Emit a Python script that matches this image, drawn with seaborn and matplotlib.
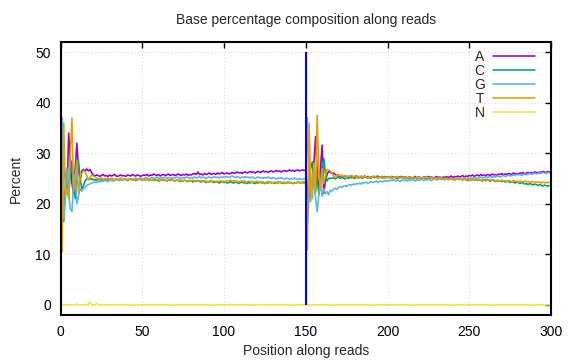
import pandas as pd
import matplotlib
matplotlib.use("Agg")
import matplotlib.pyplot as plt
import seaborn as sns

# Positions along the (concatenated) read pair: read 1 = 1..150, read 2 = 151..300
positions = list(range(1, 301))
read_boundary = 150

a_pct = [
    20.0, 27.5, 25.0, 22.0, 34.0, 28.0, 24.0, 22.0, 27.0, 32.0,
    27.0, 24.5, 26.5, 26.8, 26.4, 26.9, 26.5, 26.8, 26.2, 25.7,
    25.5, 25.7, 25.6, 25.4, 25.6, 25.8, 25.5, 25.6, 25.4, 25.7,
    25.5, 25.6, 25.8, 25.5, 25.4, 25.6, 25.7, 25.5, 25.6, 25.4,
    25.7, 25.6, 25.5, 25.8, 25.6, 25.5, 25.7, 25.6, 25.4, 25.6,
    25.7, 25.6, 25.8, 25.5, 25.7, 25.6, 25.9, 25.7, 25.6, 25.8,
    25.5, 25.7, 25.8, 25.6, 25.7, 25.9, 25.6, 25.7, 25.8, 25.6,
    25.7, 25.9, 25.7, 25.6, 25.8, 25.7, 25.9, 25.6, 25.8, 25.7,
    25.9, 26.0, 25.8, 26.3, 25.8, 25.9, 25.7, 26.0, 25.8, 25.9,
    26.1, 25.8, 25.9, 26.0, 25.8, 26.1, 25.9, 26.0, 26.2, 25.9,
    26.0, 26.1, 25.9, 26.0, 26.2, 26.0, 26.1, 26.3, 26.1, 26.2,
    26.0, 26.2, 26.3, 26.1, 26.2, 26.4, 26.2, 26.3, 26.1, 26.3,
    26.4, 26.2, 26.3, 26.5, 26.3, 26.4, 26.2, 26.4, 26.5, 26.3,
    26.4, 26.6, 26.4, 26.5, 26.3, 26.5, 26.6, 26.4, 26.5, 26.7,
    26.5, 26.6, 26.4, 26.6, 26.7, 26.5, 26.6, 26.7, 26.6, 26.7,
    20.0, 27.0, 24.5, 23.0, 28.0, 33.3, 26.0, 22.4, 27.0, 31.6,
    22.0, 24.5, 25.8, 26.4, 26.2, 26.0, 26.1, 25.8, 25.6, 25.5,
    25.4, 25.6, 25.3, 25.5, 25.4, 25.2, 25.5, 25.3, 25.4, 25.2,
    25.5, 25.3, 25.4, 25.1, 25.3, 25.5, 25.2, 25.4, 25.3, 25.1,
    25.4, 25.2, 25.3, 25.5, 25.2, 25.3, 25.1, 25.4, 25.2, 25.3,
    25.2, 25.4, 25.1, 25.3, 25.2, 25.0, 25.3, 25.2, 25.4, 25.1,
    25.3, 25.2, 25.0, 25.3, 25.1, 25.2, 25.4, 25.1, 25.3, 25.2,
    25.0, 25.2, 25.3, 25.1, 25.4, 25.2, 25.3, 25.1, 25.2, 25.4,
    25.2, 25.3, 25.1, 25.3, 25.2, 25.4, 25.2, 25.3, 25.5, 25.2,
    25.4, 25.3, 25.5, 25.3, 25.4, 25.6, 25.3, 25.5, 25.4, 25.6,
    25.5, 25.7, 25.4, 25.6, 25.7, 25.5, 25.8, 25.6, 25.7, 25.5,
    25.8, 25.7, 25.6, 25.9, 25.7, 25.8, 25.6, 25.9, 25.8, 26.0,
    25.7, 25.9, 25.8, 26.0, 25.9, 25.8, 26.1, 25.9, 26.0, 25.8,
    26.1, 26.0, 26.2, 25.9, 26.1, 26.2, 26.0, 26.2, 26.1, 26.3,
    26.2, 26.1, 26.3, 26.2, 26.4, 26.3, 26.2, 26.4, 26.3, 26.4,
]

c_pct = [
    28.0, 16.5, 24.0, 27.0, 21.5, 26.0, 28.5, 24.0, 21.0, 24.5,
    28.5, 25.0, 23.0, 23.5, 24.5, 24.9, 25.0, 24.8, 25.0, 24.7,
    24.8, 24.6, 24.9, 24.7, 24.8, 24.6, 24.9, 24.8, 24.7, 24.9,
    24.6, 24.8, 24.7, 24.9, 24.8, 24.6, 24.8, 24.7, 24.9, 24.8,
    24.6, 24.8, 24.9, 24.7, 24.8, 24.6, 24.7, 24.9, 24.8, 24.7,
    24.8, 24.7, 24.9, 24.6, 24.8, 24.7, 24.6, 24.8, 24.7, 24.5,
    24.7, 24.8, 24.6, 24.7, 24.5, 24.7, 24.6, 24.8, 24.6, 24.5,
    24.7, 24.6, 24.4, 24.6, 24.5, 24.7, 24.5, 24.4, 24.6, 24.5,
    24.3, 24.5, 24.4, 24.6, 24.4, 24.3, 24.5, 24.4, 24.2, 24.4,
    24.3, 24.5, 24.3, 24.2, 24.4, 24.3, 24.1, 24.3, 24.4, 24.2,
    24.3, 24.1, 24.2, 24.4, 24.2, 24.1, 24.3, 24.2, 24.0, 24.2,
    24.3, 24.1, 24.2, 24.0, 24.2, 24.1, 24.3, 24.1, 24.0, 24.2,
    24.1, 24.3, 24.1, 24.2, 24.0, 24.2, 24.1, 24.3, 24.1, 24.2,
    24.0, 24.2, 24.1, 24.3, 24.2, 24.0, 24.2, 24.1, 24.3, 24.1,
    24.2, 24.0, 24.2, 24.1, 24.3, 24.2, 24.1, 24.3, 24.2, 24.3,
    16.0, 22.0, 27.0, 28.3, 24.0, 22.5, 26.0, 21.7, 24.5, 27.5,
    29.0, 26.0, 24.5, 25.0, 25.1, 25.0, 25.2, 24.9, 25.1, 25.3,
    25.0, 25.2, 25.1, 24.9, 25.2, 25.0, 25.3, 25.1, 25.2, 25.0,
    25.3, 25.1, 25.2, 25.4, 25.1, 25.3, 25.2, 25.0, 25.3, 25.1,
    25.4, 25.2, 25.3, 25.1, 25.3, 25.2, 25.4, 25.1, 25.3, 25.2,
    25.3, 25.1, 25.4, 25.2, 25.3, 25.1, 25.2, 25.4, 25.1, 25.3,
    25.2, 25.0, 25.3, 25.1, 25.2, 25.0, 25.3, 25.1, 25.2, 25.0,
    25.1, 25.3, 25.0, 25.2, 25.1, 24.9, 25.2, 25.0, 25.1, 24.9,
    25.1, 25.0, 24.8, 25.0, 25.1, 24.9, 25.0, 24.8, 25.0, 24.9,
    24.7, 24.9, 25.0, 24.8, 24.9, 24.7, 24.9, 24.8, 24.6, 24.8,
    24.7, 24.9, 24.7, 24.8, 24.6, 24.8, 24.7, 24.5, 24.7, 24.6,
    24.8, 24.6, 24.5, 24.7, 24.6, 24.4, 24.6, 24.5, 24.6, 24.4,
    24.5, 24.3, 24.5, 24.4, 24.2, 24.4, 24.3, 24.1, 24.3, 24.2,
    24.0, 24.2, 24.1, 23.9, 24.0, 23.8, 24.0, 23.9, 23.7, 23.9,
    23.8, 23.6, 23.8, 23.7, 23.5, 23.7, 23.6, 23.5, 23.6, 23.5,
]

g_pct = [
    37.0, 17.0, 21.0, 27.0, 22.0, 19.0, 18.5, 24.0, 26.0, 20.0,
    21.5, 23.0, 22.5, 23.0, 23.3, 23.6, 23.8, 23.9, 24.1, 24.2,
    24.3, 24.2, 24.4, 24.3, 24.5, 24.4, 24.6, 24.5, 24.4, 24.6,
    24.7, 24.5, 24.6, 24.8, 24.7, 24.6, 24.8, 24.7, 24.9, 24.8,
    24.7, 24.9, 25.0, 24.8, 24.9, 25.1, 24.9, 25.0, 25.1, 24.9,
    25.0, 25.2, 25.1, 24.9, 25.1, 25.2, 25.0, 25.1, 25.3, 25.1,
    25.0, 25.2, 25.1, 25.3, 25.0, 25.2, 25.1, 25.0, 25.2, 25.1,
    25.3, 25.1, 25.2, 25.0, 25.2, 25.1, 25.3, 25.2, 25.0, 25.2,
    25.1, 25.3, 25.1, 25.2, 25.4, 25.1, 25.3, 25.2, 25.0, 25.2,
    25.3, 25.1, 25.2, 25.4, 25.2, 25.3, 25.1, 25.3, 25.2, 25.4,
    25.3, 25.4, 25.2, 25.3, 25.5, 25.3, 25.2, 25.4, 25.3, 25.1,
    25.3, 25.2, 25.4, 25.2, 25.3, 25.1, 25.3, 25.2, 25.0, 25.2,
    25.3, 25.1, 25.2, 25.0, 25.2, 25.1, 25.3, 25.1, 25.0, 25.2,
    25.1, 24.9, 25.1, 25.0, 25.2, 25.0, 24.9, 25.1, 25.0, 24.8,
    25.0, 24.9, 25.1, 24.9, 24.8, 25.0, 24.9, 24.8, 25.0, 24.9,
    37.0, 25.0, 20.4, 26.0, 23.7, 21.0, 18.4, 22.0, 24.0, 21.5,
    23.0, 22.0, 22.4, 21.8, 22.7, 22.5, 22.9, 23.1, 22.8, 23.2,
    23.4, 23.2, 23.5, 23.6, 23.4, 23.7, 23.8, 23.6, 23.9, 23.8,
    24.0, 23.9, 24.1, 23.9, 24.2, 24.1, 24.3, 24.0, 24.2, 24.4,
    24.2, 24.3, 24.5, 24.2, 24.4, 24.5, 24.3, 24.6, 24.4, 24.6,
    24.5, 24.7, 24.6, 24.8, 24.5, 24.7, 24.6, 24.4, 24.7, 24.6,
    24.8, 24.5, 24.7, 24.6, 24.8, 24.7, 24.5, 24.8, 24.6, 24.7,
    24.9, 24.6, 24.8, 24.7, 24.9, 24.7, 24.6, 24.8, 24.9, 24.7,
    24.8, 25.0, 24.8, 24.9, 24.7, 25.0, 24.8, 24.9, 25.1, 24.9,
    25.0, 24.8, 25.0, 25.1, 24.9, 25.0, 25.2, 24.9, 25.1, 25.0,
    25.1, 25.0, 25.2, 25.1, 25.0, 25.2, 25.3, 25.1, 25.2, 25.4,
    25.2, 25.3, 25.4, 25.2, 25.4, 25.3, 25.5, 25.4, 25.3, 25.5,
    25.6, 25.4, 25.5, 25.7, 25.5, 25.6, 25.7, 25.6, 25.8, 25.7,
    25.8, 25.6, 25.8, 25.9, 25.7, 25.9, 26.0, 25.8, 25.9, 26.1,
    25.9, 26.0, 26.1, 26.0, 26.2, 26.1, 26.0, 26.2, 26.1, 26.2,
]

t_pct = [
    10.5, 36.0, 21.5, 23.0, 21.0, 30.0, 37.0, 22.5, 25.0, 28.5,
    22.0, 25.5, 26.0, 26.5, 26.4, 25.6, 24.7, 25.2, 25.7, 25.5,
    25.3, 25.1, 25.0, 24.9, 25.1, 24.8, 25.0, 24.9, 25.1, 24.8,
    25.0, 24.9, 24.7, 25.0, 24.8, 24.9, 25.1, 24.8, 24.9, 24.7,
    24.9, 24.8, 25.0, 24.8, 24.7, 24.9, 24.8, 25.0, 24.7, 24.8,
    24.8, 24.7, 24.9, 24.6, 24.8, 24.7, 24.8, 24.6, 24.7, 24.9,
    24.6, 24.7, 24.8, 24.6, 24.5, 24.7, 24.8, 24.6, 24.7, 24.5,
    24.7, 24.6, 24.8, 24.5, 24.6, 24.7, 24.5, 24.6, 24.4, 24.6,
    24.7, 24.5, 24.6, 24.4, 24.5, 24.6, 24.4, 24.6, 24.5, 24.3,
    24.5, 24.6, 24.4, 24.5, 24.3, 24.5, 24.4, 24.6, 24.4, 24.5,
    24.4, 24.6, 24.5, 24.7, 24.5, 24.6, 24.4, 24.5, 24.3, 24.5,
    24.4, 24.6, 24.4, 24.3, 24.5, 24.4, 24.2, 24.4, 24.3, 24.5,
    24.3, 24.2, 24.4, 24.3, 24.1, 24.3, 24.4, 24.2, 24.3, 24.1,
    24.3, 24.2, 24.4, 24.2, 24.1, 24.3, 24.2, 24.0, 24.2, 24.3,
    24.1, 24.2, 24.0, 24.2, 24.1, 24.3, 24.1, 24.2, 24.0, 24.2,
    10.9, 36.0, 24.0, 21.0, 28.0, 22.0, 37.5, 26.0, 23.0, 27.0,
    24.0, 25.5, 26.8, 26.7, 26.5, 26.0, 25.5, 25.3, 25.6, 25.8,
    25.5, 25.7, 25.4, 25.6, 25.3, 25.5, 25.4, 25.6, 25.3, 25.5,
    25.2, 25.4, 25.3, 25.5, 25.2, 25.4, 25.3, 25.1, 25.4, 25.2,
    25.3, 25.5, 25.2, 25.3, 25.1, 25.4, 25.2, 25.3, 25.1, 25.3,
    25.2, 25.4, 25.1, 25.3, 25.2, 25.4, 25.1, 25.2, 25.3, 25.1,
    25.3, 25.0, 25.2, 25.3, 25.1, 25.2, 25.0, 25.3, 25.1, 25.2,
    25.0, 25.2, 25.1, 25.3, 25.0, 25.1, 25.2, 25.0, 25.1, 24.9,
    25.1, 25.0, 25.2, 24.9, 25.0, 25.1, 24.9, 25.0, 24.8, 25.0,
    24.9, 25.1, 24.8, 24.9, 25.0, 24.8, 24.9, 24.7, 24.9, 24.8,
    24.9, 24.7, 24.8, 24.9, 24.7, 24.8, 24.6, 24.8, 24.7, 24.9,
    24.6, 24.7, 24.8, 24.6, 24.7, 24.5, 24.7, 24.6, 24.5, 24.7,
    24.5, 24.6, 24.4, 24.6, 24.5, 24.4, 24.6, 24.4, 24.5, 24.3,
    24.5, 24.4, 24.3, 24.5, 24.3, 24.4, 24.2, 24.4, 24.3, 24.2,
    24.4, 24.2, 24.3, 24.1, 24.3, 24.2, 24.1, 24.3, 24.2, 24.2,
]

# N is zero everywhere except for a few tiny bumps in read 1
n_spike_pos = [10, 18, 22, 105, 120]
n_spike_val = [0.2, 0.6, 0.3, 0.1, 0.1]

bases = ["A", "C", "G", "T", "N"]
colors = {"A": "#9400d3", "C": "#009e73", "G": "#56b4e9", "T": "#e69f00", "N": "#f0e442"}


def build_frame():
    n_pct = [0.0] * len(positions)
    for p, v in zip(n_spike_pos, n_spike_val):
        n_pct[p - 1] = v
    series = {"A": a_pct, "C": c_pct, "G": g_pct, "T": t_pct, "N": n_pct}
    for b, vals in series.items():
        assert len(vals) == len(positions), (b, len(vals))
    frames = [pd.DataFrame({"pos": positions, "pct": vals, "base": b})
              for b, vals in series.items()]
    return pd.concat(frames, ignore_index=True)


def plot_data(df):
    sns.set_theme(style="white")
    plt.rcParams["font.family"] = ["Liberation Sans", "DejaVu Sans"]

    fig = plt.figure(figsize=(5.76, 3.6), dpi=100)
    ax = fig.add_axes([60.5 / 576, 1 - 315 / 360, 490.5 / 576, 273 / 360])

    sns.lineplot(data=df, x="pos", y="pct", hue="base", hue_order=bases,
                 palette=colors, estimator=None, lw=1.15, ax=ax)

    # boundary between read 1 and read 2
    ax.vlines(read_boundary, 0, 50, color="#0000ff", lw=1.5, zorder=5)

    ax.set_xlim(0, 300)
    ax.set_ylim(-2, 52)
    ax.set_xticks(range(0, 301, 50))
    ax.set_yticks(range(0, 51, 10))
    ax.grid(True, color="#c8c8c8", ls=(0, (1, 3)), lw=0.6)
    ax.tick_params(direction="in", length=4.5, width=1, top=True, right=True,
                   labelsize=10, colors="black", pad=7)
    for s in ax.spines.values():
        s.set_linewidth(1.5)
        s.set_color("black")

    ax.set_xlabel("Position along reads", fontsize=10, labelpad=4)
    ax.set_ylabel("Percent", fontsize=10, labelpad=9)
    fig.text(306 / 576, 1 - 20 / 360, "Base percentage composition along reads",
             ha="center", va="center", fontsize=10)

    handles, labels = ax.get_legend_handles_labels()
    ax.legend(handles, labels, loc="upper right", bbox_to_anchor=(0.978, 0.99),
              markerfirst=False, frameon=False, handlelength=3,
              handletextpad=0.6, labelspacing=0.0, borderaxespad=0,
              fontsize=10)

    fig.savefig("out.png", dpi=100)


def main():
    df = build_frame()
    plot_data(df)


if __name__ == "__main__":
    main()
